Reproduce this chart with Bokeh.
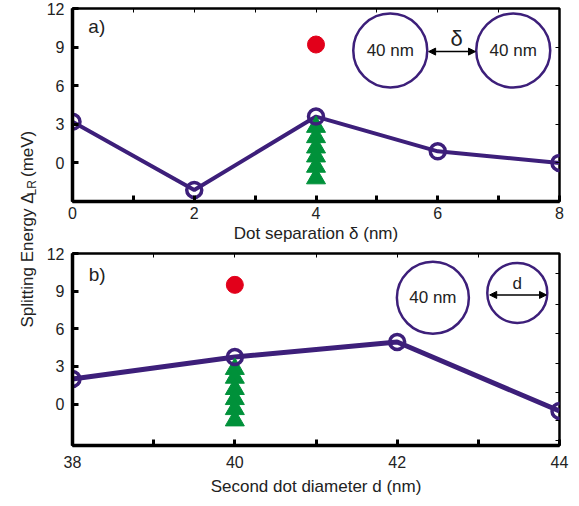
import math
from bokeh.plotting import figure
from bokeh.layouts import row, column
from bokeh.models import (FixedTicker, LinearAxis, Label, Arrow, NormalHead, Range1d)
from bokeh.core.properties import value
from bokeh.embed import file_html
from bokeh.resources import INLINE

# ---------------- data ----------------
# panel a: dot separation
sep_nm = [0, 2, 4, 6, 8]
sep_energy = [3.2, -2.1, 3.6, 0.9, 0.0]
sep_red_x = [4]
sep_red_y = [9.2]
sep_green_x = 4
sep_green_y = [2.8, 2.0, 1.2, 0.5, -0.3, -1.2]

# panel b: second dot diameter
diam_nm = [38, 40, 42, 44]
diam_energy = [2.0, 3.75, 4.95, -0.55]
diam_red_x = [40]
diam_red_y = [9.5]
diam_green_x = 40
diam_green_y = [2.8, 2.1, 1.2, 0.4, -0.4, -1.3]

a_xticks = [0, 2, 4, 6, 8]
a_xminor = [1, 3, 5, 7]
b_xticks = [38, 40, 42, 44]
b_xminor = [39, 41, 43]
yticks = [0, 3, 6, 9, 12]

PURPLE = "#3d1f7a"
RED = "#e2001a"
GREEN = "#00913a"
TXT = "#222222"
FONT = "Liberation Sans"


def style(p, xt, xminor, xlabel, top_ticks, right_ticks, label_standoff, axis_label_standoff):
    p.grid.visible = False
    p.outline_line_color = "black"
    p.outline_line_width = 2.5
    p.background_fill_color = "white"
    p.border_fill_color = "white"
    p.xaxis.ticker = FixedTicker(ticks=xt, minor_ticks=xminor)
    p.yaxis.ticker = FixedTicker(ticks=yticks, minor_ticks=[])
    for ax in (p.xaxis[0], p.yaxis[0]):
        ax.axis_line_width = 3.5
        ax.axis_line_color = "black"
        ax.major_tick_in = 6
        ax.major_tick_out = 0
        ax.major_tick_line_width = 3
        ax.minor_tick_in = 6
        ax.minor_tick_out = 0
        ax.minor_tick_line_width = 3
        ax.major_label_text_font = FONT
        ax.major_label_text_font_size = "16px"
        ax.major_label_text_color = TXT
        ax.axis_label_text_font = FONT
        ax.axis_label_text_font_size = "17px"
        ax.axis_label_text_font_style = "normal"
        ax.axis_label_text_color = TXT
    p.xaxis[0].axis_label = xlabel
    p.xaxis[0].major_label_standoff = label_standoff
    p.xaxis[0].axis_label_standoff = axis_label_standoff
    p.yaxis[0].major_label_standoff = 8
    for loc, tk in (("above", top_ticks), ("right", right_ticks)):
        ax = LinearAxis(ticker=FixedTicker(ticks=[], minor_ticks=tk),
                        axis_line_color=None, major_tick_line_color=None,
                        minor_tick_in=4, minor_tick_out=0, minor_tick_line_width=1,
                        minor_tick_line_color="black", major_label_standoff=0)
        p.add_layout(ax, loc)


def ring(p, x, y, size):
    p.scatter([x], [y], marker="circle", size=size, fill_color=None,
              line_color=PURPLE, line_width=2.5)


def txt(p, x, y, s, size="17px"):
    p.text([x], [y], text=[s], text_align="center", text_baseline="middle",
           text_font=value(FONT), text_font_size=size, text_color=TXT)


def arrow(p, x0, x1, y):
    p.add_layout(Arrow(start=NormalHead(size=7, fill_color="black", line_color="black"),
                       end=NormalHead(size=7, fill_color="black", line_color="black"),
                       x_start=x0, y_start=y, x_end=x1, y_end=y,
                       line_width=1.5, line_color="black"))


# ---------------- panel a ----------------
fa = figure(width=527, height=245, x_range=Range1d(0, 8), y_range=Range1d(-3, 12),
            min_border_left=30, min_border_right=10, min_border_top=8, min_border_bottom=44,
            output_backend="svg", toolbar_location=None)
style(fa, a_xticks, a_xminor, "Dot separation δ (nm)", list(range(0, 9)), [0, 3, 6, 9], 5, 2)
fa.line(sep_nm, sep_energy, line_width=4, line_color=PURPLE)
fa.scatter([sep_green_x] * len(sep_green_y), sep_green_y, marker="triangle", size=19,
           fill_color=GREEN, line_color=GREEN)
fa.scatter(sep_nm, sep_energy, marker="circle", size=15, fill_color=None,
           line_color=PURPLE, line_width=3.5)
fa.scatter(sep_red_x, sep_red_y, marker="circle", size=17, fill_color=RED, line_color=RED)
ring(fa, 5.22, 8.73, 74)
ring(fa, 7.24, 8.73, 74)
txt(fa, 5.22, 8.73, "40 nm")
txt(fa, 7.24, 8.73, "40 nm")
txt(fa, 6.31, 9.7, "δ", "22px")
arrow(fa, 5.85, 6.62, 8.65)
fa.add_layout(Label(x=0.26, y=10.6, text="a)", text_font=FONT, text_font_size="19px",
                    text_color=TXT, text_baseline="middle", text_align="left"))

# ---------------- panel b ----------------
fb = figure(width=527, height=253, x_range=Range1d(38, 44), y_range=Range1d(-3.3, 12),
            min_border_left=30, min_border_right=8, min_border_top=8, min_border_bottom=50,
            output_backend="svg", toolbar_location=None)
style(fb, b_xticks, b_xminor, "Second dot diameter d (nm)", list(range(38, 45)),
      [10.4, 7.9, 5.6, 3.2, 0.9, -1.3, -2.9], 10, 6)
fb.line(diam_nm, diam_energy, line_width=5, line_color=PURPLE)
fb.scatter([diam_green_x] * len(diam_green_y), diam_green_y, marker="triangle", size=19,
           fill_color=GREEN, line_color=GREEN)
fb.scatter(diam_nm, diam_energy, marker="circle", size=15, fill_color=None,
           line_color=PURPLE, line_width=3.5)
fb.scatter(diam_red_x, diam_red_y, marker="circle", size=17, fill_color=RED, line_color=RED)
ring(fb, 42.44, 8.47, 72)
ring(fb, 43.48, 8.86, 60)
txt(fb, 42.44, 8.47, "40 nm")
txt(fb, 43.48, 9.6, "d")
arrow(fb, 43.14, 43.84, 8.7)
fb.add_layout(Label(x=38.2, y=10.3, text="b)", text_font=FONT, text_font_size="19px",
                    text_color=TXT, text_baseline="middle", text_align="left"))

# ---------------- shared y label ----------------
H = 498
lf = figure(width=42, height=H, x_range=Range1d(0, 42), y_range=Range1d(H, 0),
            min_border=0, x_axis_location=None, y_axis_location=None,
            output_backend="svg", toolbar_location=None)
lf.grid.visible = False
lf.outline_line_color = None
ang = math.pi / 2
y0 = 327
w1 = 131.0
w2 = 14.5
lf.add_layout(Label(x=27, y=y0, text="Splitting Energy Δ", angle=ang, text_font=FONT,
                    text_font_size="17px", text_color=TXT, text_baseline="alphabetic",
                    text_align="left"))
lf.add_layout(Label(x=31, y=y0 - w1 - 1, text="LR", angle=ang, text_font=FONT,
                    text_font_size="12px", text_color=TXT, text_baseline="alphabetic",
                    text_align="left"))
lf.add_layout(Label(x=27, y=y0 - w1 - w2 - 5, text="(meV)", angle=ang, text_font=FONT,
                    text_font_size="17px", text_color=TXT, text_baseline="alphabetic",
                    text_align="left"))

layout = row(lf, column(fa, fb, spacing=0), spacing=0)

open("out.html", "w").write(file_html(layout, INLINE))
